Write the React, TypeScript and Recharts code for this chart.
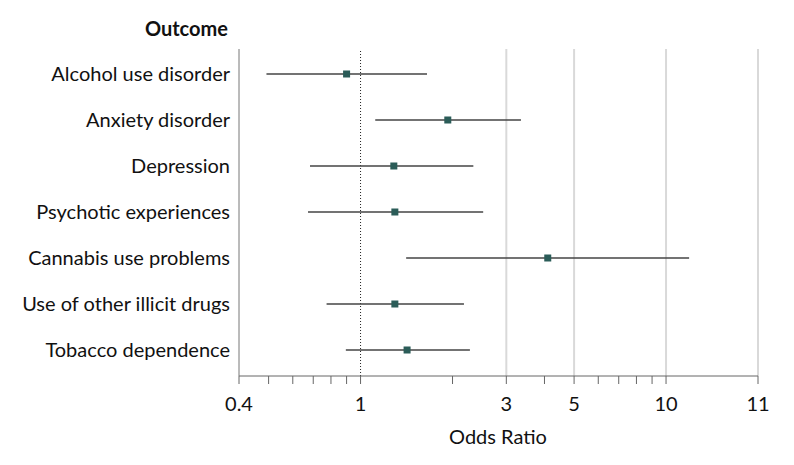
import React from "react";
import {
  ComposedChart,
  Scatter,
  ErrorBar,
  XAxis,
  YAxis,
  ReferenceLine,
} from "recharts";

const outcomes = [
  "Alcohol use disorder",
  "Anxiety disorder",
  "Depression",
  "Psychotic experiences",
  "Cannabis use problems",
  "Use of other illicit drugs",
  "Tobacco dependence",
];
const oddsRatios = [0.9, 1.93, 1.285, 1.295, 4.1, 1.295, 1.42];
const lowerCI = [0.492, 1.117, 0.683, 0.673, 1.41, 0.774, 0.895];
const upperCI = [1.65, 3.35, 2.34, 2.52, 11.9, 2.18, 2.28];

const majorTicks = [0.4, 1, 3, 5, 10, 20];
const majorTickLabels = ["0.4", "1", "3", "5", "10", "11"];
const minorTicks = [0.5, 0.6, 0.7, 0.8, 0.9, 2, 4, 6, 7, 8, 9];
const gridValues = [3, 5, 10, 20];

const FONT = "Lato, 'Noto Sans', sans-serif";
const W = 794;
const H = 465;

const data = outcomes.map((name, i) => ({
  name,
  or: oddsRatios[i],
  err: [oddsRatios[i] - lowerCI[i], upperCI[i] - oddsRatios[i]],
}));

const allTicks = [...majorTicks, ...minorTicks].sort((a, b) => a - b);

const fmt = (v: number) => {
  const i = majorTicks.indexOf(v);
  return i >= 0 ? majorTickLabels[i] : "";
};

const SquareShape = (props: any) => {
  const { cx, cy } = props;
  if (cx == null || cy == null) return null;
  const s = 7;
  return <rect x={cx - s / 2} y={cy - s / 2} width={s} height={s} fill="#2b5c58" />;
};

export default function App() {
  return (
    <div style={{ position: "absolute", left: 0, top: 0, width: W, height: H, background: "#fff" }}>
      <ComposedChart
        width={W}
        height={H}
        data={data}
        layout="vertical"
        margin={{ top: 49, right: 36, bottom: 29, left: 39 }}
      >
        <XAxis
          type="number"
          dataKey="or"
          scale="log"
          domain={[0.4, 20]}
          allowDataOverflow
          ticks={allTicks}
          interval={0}
          tickFormatter={fmt}
          height={60}
          tickSize={8}
          tickMargin={13}
          stroke="#666"
          tick={{ fill: "#111", fontSize: 20, fontFamily: FONT }}
        />
        <YAxis
          type="category"
          dataKey="name"
          width={200}
          tickSize={0}
          tickMargin={9}
          padding={{ top: 25, bottom: 26 }}
          stroke="#777"
          tick={{ fill: "#111", fontSize: 20, fontFamily: FONT }}
        />
        {gridValues.map((v) => (
          <ReferenceLine key={v} x={v} stroke="#d9d9d9" strokeWidth={2} ifOverflow="extendDomain" />
        ))}
        <ReferenceLine x={1} stroke="#222" strokeWidth={1} strokeDasharray="1 2" />
        <Scatter dataKey="or" shape={<SquareShape />} isAnimationActive={false}>
          <ErrorBar dataKey="err" direction="x" width={0} stroke="#444" strokeWidth={1.3} isAnimationActive={false} />
        </Scatter>
      </ComposedChart>
      <svg width={W} height={H} style={{ position: "absolute", left: 0, top: 0, pointerEvents: "none" }}>
        <text x={228} y={35.7} textAnchor="end" fontFamily={FONT} fontWeight={700} fontSize={20} fill="#111">
          Outcome
        </text>
        <text x={498} y={444} textAnchor="middle" fontFamily={FONT} fontSize={20} fill="#111">
          Odds Ratio
        </text>
      </svg>
    </div>
  );
}
